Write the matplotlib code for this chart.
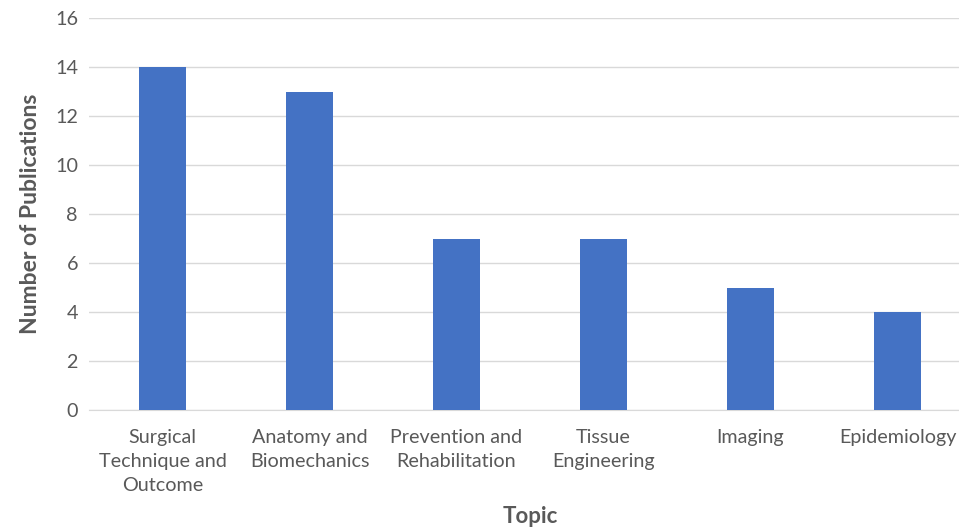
import matplotlib
matplotlib.use("Agg")
import matplotlib.pyplot as plt
import numpy as np

categories = ["Surgical\nTechnique and\nOutcome", "Anatomy and\nBiomechanics",
              "Prevention and\nRehabilitation", "Tissue\nEngineering",
              "Imaging", "Epidemiology"]
values = [14, 13, 7, 7, 5, 4]
yticks = [0, 2, 4, 6, 8, 10, 12, 14, 16]

plt.rcParams['font.family'] = ['Lato', 'DejaVu Sans']
fig = plt.figure(figsize=(9.59, 5.28), dpi=100)
W, H = 959, 528
ax = fig.add_axes([89 / W, 1 - 410 / H, (971 - 89) / W, (410 - 18) / H])

x = np.arange(len(categories))
ax.bar(x, values, width=0.32, color='#4472C4', zorder=3)
ax.set_xlim(-0.5, len(categories) - 0.5)
ax.set_ylim(0, 16)
ax.set_yticks(yticks)
ax.set_xticks(x)
ax.set_xticklabels(categories, fontsize=14.2, color='#595959', linespacing=1.5)
ax.tick_params(axis='y', labelsize=14.2, labelcolor='#595959', length=0, pad=8)
ax.tick_params(axis='x', length=0, pad=14)
ax.grid(axis='y', color='#D9D9D9', linewidth=1, zorder=0)
for s in ['top', 'right', 'left']:
    ax.spines[s].set_visible(False)
ax.spines['bottom'].set_color('#D9D9D9')
ax.set_ylabel('Number of Publications', fontsize=16.5, fontweight='bold', color='#595959', labelpad=10)
ax.set_xlabel('Topic', fontsize=16, fontweight='bold', color='#595959', labelpad=8)

fig.savefig('out.png', dpi=100)
